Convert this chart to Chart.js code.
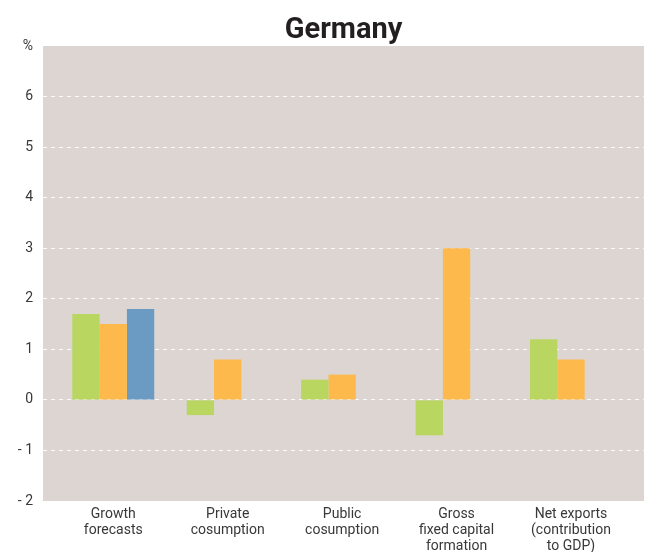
<!DOCTYPE html>
<html>
<head>
<meta charset="utf-8">
<script src="https://cdn.jsdelivr.net/npm/chart.js@4.4.0/dist/chart.umd.min.js"></script>
<style>
  html, body { margin: 0; padding: 0; background: #ffffff; }
  #wrap { width: 648px; height: 552px; }
</style>
</head>
<body>
<div id="wrap"><canvas id="chart" width="648" height="552"></canvas></div>
<script>
var chartTitle = 'Germany';
var categories = [
    ['Growth', 'forecasts'],
    ['Private', 'cosumption'],
    ['Public', 'cosumption'],
    ['Gross', 'fixed capital', 'formation'],
    ['Net exports', '(contribution', 'to GDP)']
];
var greenValues = [1.7, -0.3, 0.4, -0.7, 1.2];
var orangeValues = [1.5, 0.8, 0.5, 3.0, 0.8];
var blueValues = [1.8, null, null, null, null];
var yTicks = [-2, -1, 0, 1, 2, 3, 4, 5, 6, 7];

function toPoints(values) {
    return values.map((v, i) => ({ x: i, y: v }));
}

var plotBackground = {
    id: 'plotBackground',
    beforeDraw: function(chart) {
        var a = chart.chartArea;
        var ctx = chart.ctx;
        ctx.save();
        ctx.fillStyle = '#dcd5d2';
        ctx.fillRect(a.left, a.top, a.right - a.left, a.bottom - a.top);
        ctx.restore();
    }
};

var centeredTitle = {
    id: 'centeredTitle',
    afterDraw: function(chart) {
        var a = chart.chartArea;
        var ctx = chart.ctx;
        ctx.save();
        ctx.font = 'bold 29px Roboto';
        ctx.fillStyle = '#231f20';
        ctx.textAlign = 'center';
        ctx.textBaseline = 'alphabetic';
        ctx.fillText(chartTitle, (a.left + a.right) / 2, 38);
        ctx.restore();
    }
};

var ctx = document.getElementById('chart').getContext('2d');
var chart = new Chart(ctx, {
    type: 'bar',
    data: {
        datasets: [{
            data: toPoints(greenValues),
            backgroundColor: '#b9d660'
        }, {
            data: toPoints(orangeValues),
            backgroundColor: '#fdb94b'
        }, {
            data: toPoints(blueValues),
            backgroundColor: '#6b9bc3'
        }]
    },
    options: {
        responsive: false,
        animation: false,
        categoryPercentage: 0.716,
        barPercentage: 1,
        layout: {
            padding: { top: 46, right: 4, left: 0, bottom: 0 }
        },
        scales: {
            x: {
                type: 'linear',
                offset: false,
                min: -0.614,
                max: 4.638,
                grid: { display: false },
                border: { display: false },
                afterBuildTicks: function(axis) {
                    axis.ticks = categories.map((c, i) => ({ value: i }));
                },
                afterFit: function(axis) {
                    axis.height = 51;
                },
                ticks: {
                    padding: -2,
                    maxRotation: 0,
                    autoSkip: false,
                    color: '#383838',
                    font: { family: 'Roboto', size: 14, lineHeight: 1.12 },
                    callback: function(value) {
                        return categories[value];
                    }
                }
            },
            y: {
                min: -2,
                max: 7,
                afterBuildTicks: function(axis) {
                    axis.ticks = yTicks.map(v => ({ value: v }));
                },
                afterFit: function(axis) {
                    axis.width = 43;
                },
                grid: {
                    drawTicks: false,
                    lineWidth: 1,
                    color: function(c) {
                        if (c.tick && (c.tick.value === 7 || c.tick.value === -2)) {
                            return 'rgba(0,0,0,0)';
                        }
                        return 'rgba(255,255,255,0.9)';
                    }
                },
                border: { display: false, dash: [4, 4] },
                ticks: {
                    padding: 10,
                    color: '#383838',
                    font: { family: 'Roboto', size: 14 },
                    callback: function(value) {
                        if (value === 7) {
                            return '%';
                        }
                        if (value < 0) {
                            return '- ' + Math.abs(value);
                        }
                        return String(value);
                    }
                }
            }
        },
        plugins: {
            legend: { display: false },
            title: { display: false },
            tooltip: { enabled: false }
        }
    },
    plugins: [plotBackground, centeredTitle]
});
</script>
</body>
</html>
